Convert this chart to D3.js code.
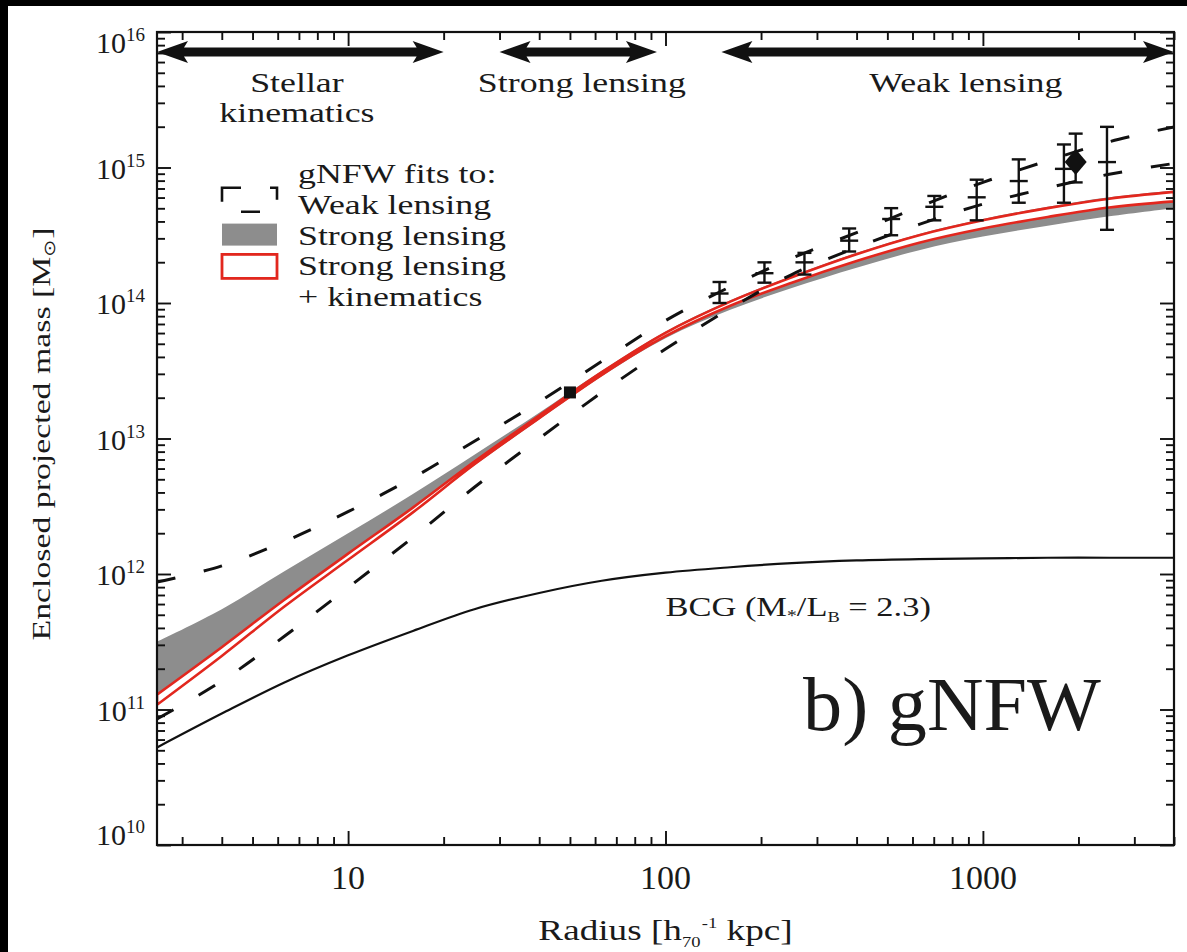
<!DOCTYPE html>
<html>
<head>
<meta charset="utf-8">
<script src="https://cdn.jsdelivr.net/npm/d3@7"></script>
<style>
  html, body { margin: 0; padding: 0; background: #fff; }
  svg { display: block; }
  text { font-family: "Liberation Serif", "Times New Roman", serif; fill: #1a1a1a; }
</style>
</head>
<body>
<svg id="chart" width="1187" height="952"></svg>
<script>
// ---- Data -------------------------------------------------------------
// Radii (h70^-1 kpc) at which the model curves are tabulated
const radii = [2.5, 4, 6.3, 10, 16, 25, 40, 63, 100, 160, 250, 400, 630, 1000, 1600, 2500, 4000];

// log10 of enclosed projected mass (M_sun) along each curve
const bcgLogM    = [10.72, 10.97, 11.20, 11.40, 11.58, 11.74, 11.86, 11.95, 12.01, 12.05, 12.08, 12.10, 12.11, 12.115, 12.12, 12.12, 12.12];
const slHighLogM = [11.50, 11.74, 12.02, 12.30, 12.59, 12.88, 13.19, 13.50, 13.79, 14.02, 14.20, 14.37, 14.51, 14.62, 14.71, 14.78, 14.83];
const slLowLogM  = [11.035, 11.395, 11.76, 12.105, 12.455, 12.80, 13.14, 13.46, 13.74, 13.95, 14.11, 14.26, 14.39, 14.49, 14.57, 14.64, 14.70];
const skHighLogM = [11.11, 11.46, 11.81, 12.15, 12.49, 12.83, 13.17, 13.49, 13.78, 14.01, 14.19, 14.36, 14.50, 14.61, 14.70, 14.77, 14.82];
const skLowLogM  = [11.035, 11.395, 11.76, 12.105, 12.455, 12.81, 13.15, 13.47, 13.755, 13.98, 14.15, 14.31, 14.445, 14.55, 14.635, 14.705, 14.75];
const wlHighLogM = [11.94, 12.06, 12.24, 12.46, 12.71, 12.98, 13.27, 13.57, 13.87, 14.12, 14.33, 14.52, 14.71, 14.89, 15.05, 15.19, 15.30];
const wlLowLogM  = [10.93, 11.21, 11.54, 11.90, 12.27, 12.64, 13.00, 13.34, 13.66, 13.96, 14.21, 14.41, 14.58, 14.73, 14.85, 14.95, 15.03];

// Weak-lensing measurements with error bars
const wlRadius = [148, 205, 274, 379, 514, 703, 956, 1297, 1800, 2460];
const wlLogM   = [14.07, 14.22, 14.30, 14.46, 14.62, 14.71, 14.78, 14.90, 14.99, 15.04];
const wlLogLo  = [14.00, 14.15, 14.21, 14.38, 14.50, 14.61, 14.61, 14.74, 14.74, 14.54];
const wlLogHi  = [14.155, 14.30, 14.37, 14.55, 14.70, 14.79, 14.91, 15.06, 15.17, 15.30];

// Strong-lensing (Einstein radius) point
const slPointRadius = [50];
const slPointLogM   = [13.34];

// Large-radius point (diamond)
const outerRadius = [1960];
const outerLogM   = [15.04];
const outerLogLo  = [14.89];
const outerLogHi  = [15.25];

// Radial ranges probed by each method
const methodRanges = [[2.5, 20], [30, 94], [150, 4000]];
const methodLabels = [["Stellar", "kinematics"], ["Strong lensing"], ["Weak lensing"]];
const methodLabelRadius = [6.9, 54.5, 884];

// Axis ticks
const xMajorTicks = [10, 100, 1000];
const xTickLabels = ["10", "100", "1000"];
const yMajorExps  = [10, 11, 12, 13, 14, 15, 16];

// Legend entries
const legendTitle = "gNFW fits to:";
const legendItems = ["Weak lensing", "Strong lensing", "Strong lensing", "+ kinematics"];

// ---- Layout -----------------------------------------------------------
const W = 1187, H = 952;
const plot = { left: 157, right: 1174, top: 32, bottom: 845 };
const RED = "#e2271e", GRAY = "#8d8d8d", INK = "#111";

const x = d3.scaleLog().domain([2.5, 4000]).range([plot.left, plot.right]);
const y = d3.scaleLog().domain([1e10, 1e16]).range([plot.bottom, plot.top]);
const M = v => Math.pow(10, v);
const smooth = d3.curveCatmullRom.alpha(0.5);

const svg = d3.select("#chart");
svg.append("rect").attr("width", W).attr("height", H).attr("fill", "#fff");
// dark scan edges along top and left
svg.append("rect").attr("x", 0).attr("y", 0).attr("width", W).attr("height", 6).attr("fill", "#000");
svg.append("rect").attr("x", 0).attr("y", 0).attr("width", 8).attr("height", H).attr("fill", "#000");

svg.append("clipPath").attr("id", "plotClip")
  .append("rect")
  .attr("x", plot.left).attr("y", plot.top)
  .attr("width", plot.right - plot.left).attr("height", plot.bottom - plot.top);

const g = svg.append("g").attr("clip-path", "url(#plotClip)");

const bandPath = (lo, hi) => d3.area()
  .x((d, i) => x(radii[i]))
  .y0((d, i) => y(M(lo[i])))
  .y1((d, i) => y(M(hi[i])))
  .curve(smooth)(radii);

const linePath = arr => d3.line()
  .x((d, i) => x(radii[i]))
  .y(d => y(M(d)))
  .curve(smooth)(arr);

// strong lensing only: grey band
g.append("path").attr("d", bandPath(slLowLogM, slHighLogM)).attr("fill", GRAY);
// strong lensing + kinematics: red outlined band
g.append("path").attr("d", bandPath(skLowLogM, skHighLogM))
  .attr("fill", "#fff").attr("stroke", RED).attr("stroke-width", 2.6).attr("stroke-linejoin", "round");

// BCG stellar mass
g.append("path").attr("d", linePath(bcgLogM))
  .attr("fill", "none").attr("stroke", INK).attr("stroke-width", 2.2);

// weak-lensing gNFW envelope
[wlHighLogM, wlLowLogM].forEach(arr => {
  g.append("path").attr("d", linePath(arr))
    .attr("fill", "none").attr("stroke", INK).attr("stroke-width", 3)
    .attr("stroke-dasharray", "19 29");
});

// weak-lensing points: plus marker with capped error bars
const cap = 7, arm = 9;
const wl = g.append("g").attr("stroke", INK).attr("stroke-width", 2.4);
wlRadius.forEach((r, i) => {
  const cx = x(r), cy = y(M(wlLogM[i])), y0 = y(M(wlLogLo[i])), y1 = y(M(wlLogHi[i]));
  wl.append("line").attr("x1", cx).attr("x2", cx).attr("y1", y0).attr("y2", y1);
  wl.append("line").attr("x1", cx - cap).attr("x2", cx + cap).attr("y1", y0).attr("y2", y0);
  wl.append("line").attr("x1", cx - cap).attr("x2", cx + cap).attr("y1", y1).attr("y2", y1);
  wl.append("line").attr("x1", cx - arm).attr("x2", cx + arm).attr("y1", cy).attr("y2", cy);
});

// outer point: diamond with error bar
outerRadius.forEach((r, i) => {
  const cx = x(r), cy = y(M(outerLogM[i])), y0 = y(M(outerLogLo[i])), y1 = y(M(outerLogHi[i]));
  wl.append("line").attr("x1", cx).attr("x2", cx).attr("y1", y0).attr("y2", y1);
  wl.append("line").attr("x1", cx - cap).attr("x2", cx + cap).attr("y1", y0).attr("y2", y0);
  wl.append("line").attr("x1", cx - cap).attr("x2", cx + cap).attr("y1", y1).attr("y2", y1);
  g.append("path")
    .attr("d", `M${cx},${cy - 13}L${cx + 11},${cy}L${cx},${cy + 13}L${cx - 11},${cy}Z`)
    .attr("fill", INK);
});

// strong-lensing point
slPointRadius.forEach((r, i) => {
  g.append("rect")
    .attr("x", x(r) - 6).attr("y", y(M(slPointLogM[i])) - 6)
    .attr("width", 12).attr("height", 12).attr("fill", INK);
});

// ---- Axes -------------------------------------------------------------
const xMinor = [], yMinor = [];
[1, 10, 100, 1000].forEach(dec => {
  for (let k = 2; k <= 9; k++) {
    const v = k * dec;
    if (v >= 2.5 && v <= 4000 && !xMajorTicks.includes(v)) xMinor.push(v);
  }
});
yMajorExps.slice(0, -1).forEach(e => {
  for (let k = 2; k <= 9; k++) yMinor.push(k * M(e));
});
const yMajor = yMajorExps.map(M);

function addAxis(axis, tx, ty) {
  const a = svg.append("g").attr("transform", `translate(${tx},${ty})`).call(axis);
  a.select(".domain").remove();
  a.selectAll("line").attr("stroke", INK).attr("stroke-width", 1.9);
  a.selectAll("text").remove();
}
const MAJ = 14, MIN = 8;
addAxis(d3.axisBottom(x).tickValues(xMajorTicks).tickSize(-MAJ).tickFormat(""), 0, plot.bottom);
addAxis(d3.axisBottom(x).tickValues(xMinor).tickSize(-MIN).tickFormat(""), 0, plot.bottom);
addAxis(d3.axisTop(x).tickValues(xMajorTicks).tickSize(-MAJ).tickFormat(""), 0, plot.top);
addAxis(d3.axisTop(x).tickValues(xMinor).tickSize(-MIN).tickFormat(""), 0, plot.top);
addAxis(d3.axisLeft(y).tickValues(yMajor).tickSize(-MAJ).tickFormat(""), plot.left, 0);
addAxis(d3.axisLeft(y).tickValues(yMinor).tickSize(-MIN).tickFormat(""), plot.left, 0);
addAxis(d3.axisRight(y).tickValues(yMajor).tickSize(-MAJ).tickFormat(""), plot.right, 0);
addAxis(d3.axisRight(y).tickValues(yMinor).tickSize(-MIN).tickFormat(""), plot.right, 0);

svg.append("rect")
  .attr("x", plot.left).attr("y", plot.top)
  .attr("width", plot.right - plot.left).attr("height", plot.bottom - plot.top)
  .attr("fill", "none").attr("stroke", INK).attr("stroke-width", 2.2);

// x tick labels
xMajorTicks.forEach((v, i) => {
  svg.append("text").attr("x", x(v)).attr("y", plot.bottom + 44)
    .attr("text-anchor", "middle").attr("font-size", 34).text(xTickLabels[i]);
});

// y tick labels as powers of ten
yMajorExps.forEach(e => {
  const base = Math.min(Math.max(y(M(e)) + 11, plot.top + 21), plot.bottom);
  const t = svg.append("text").attr("x", 145).attr("y", base)
    .attr("text-anchor", "end").attr("font-size", 30);
  t.append("tspan").text("10");
  t.append("tspan").attr("font-size", 19).attr("dy", -12).text(String(e));
});

// stretched serif label helper
function label(tx, ty, size, sx, anchor, rot) {
  const tr = `translate(${tx},${ty})` + (rot ? ` rotate(${rot})` : "") + ` scale(${sx},1)`;
  return svg.append("text").attr("transform", tr)
    .attr("text-anchor", anchor).attr("font-size", size);
}

// axis titles
const xt = label((plot.left + plot.right) / 2, 940, 30, 1.24, "middle");
xt.append("tspan").text("Radius [h");
xt.append("tspan").attr("font-size", 15).attr("dy", 7).text("70");
xt.append("tspan").attr("font-size", 15).attr("dx", 1).attr("dy", -19).text("-1");
xt.append("tspan").attr("dy", 12).text(" kpc]");

const yt = label(50, 434, 26, 1.3, "middle", -90);
yt.append("tspan").text("Enclosed projected mass [M");
yt.append("tspan").attr("font-size", 16).attr("dy", 5).text("\u2299");
yt.append("tspan").attr("dy", -5).text("]");

// ---- Method range arrows ---------------------------------------------
const arrowY = 52, headL = 31, headH = 11, shaft = 4.5;
methodRanges.forEach((rg, i) => {
  const x1 = x(rg[0]), x2 = x(rg[1]);
  const pts = [
    [x1, arrowY], [x1 + headL, arrowY - headH], [x1 + headL - 4, arrowY - shaft],
    [x2 - headL + 4, arrowY - shaft], [x2 - headL, arrowY - headH], [x2, arrowY],
    [x2 - headL, arrowY + headH], [x2 - headL + 4, arrowY + shaft],
    [x1 + headL - 4, arrowY + shaft], [x1 + headL, arrowY + headH]
  ];
  svg.append("path").attr("d", "M" + pts.join("L") + "Z").attr("fill", INK);
  methodLabels[i].forEach((ln, k) => {
    label(x(methodLabelRadius[i]), 92 + k * 30, 28, 1.28, "middle").text(ln);
  });
});

// ---- Legend -----------------------------------------------------------
const lgX = 298, lgBase = 183, lgStep = 30.8, icoX = 222, icoW = 55;
label(lgX, lgBase, 28, 1.28, "start").text(legendTitle);
legendItems.forEach((t, i) => label(lgX, lgBase + (i + 1) * lgStep, 28, 1.28, "start").text(t));
svg.append("rect").attr("x", icoX).attr("y", lgBase + lgStep - 26).attr("width", icoW).attr("height", 24)
  .attr("fill", "none").attr("stroke", INK).attr("stroke-width", 2.6).attr("stroke-dasharray", "19 29");
svg.append("rect").attr("x", icoX).attr("y", lgBase + 2 * lgStep - 21).attr("width", icoW).attr("height", 22)
  .attr("fill", GRAY);
svg.append("rect").attr("x", icoX).attr("y", lgBase + 3 * lgStep - 21).attr("width", icoW).attr("height", 24)
  .attr("fill", "#fff").attr("stroke", RED).attr("stroke-width", 2.8);

// ---- Annotations ------------------------------------------------------
const bcg = label(x(100), 616, 28, 1.23, "start");
bcg.append("tspan").text("BCG (M");
bcg.append("tspan").attr("font-size", 16).attr("dy", 5).text("*");
bcg.append("tspan").attr("dy", -5).text("/L");
bcg.append("tspan").attr("font-size", 15).attr("dy", 6).text("B");
bcg.append("tspan").attr("dy", -6).text(" = 2.3)");

label(803, 730, 76, 1.03, "start").attr("fill", "#111").text("b) gNFW");
</script>
</body>
</html>
